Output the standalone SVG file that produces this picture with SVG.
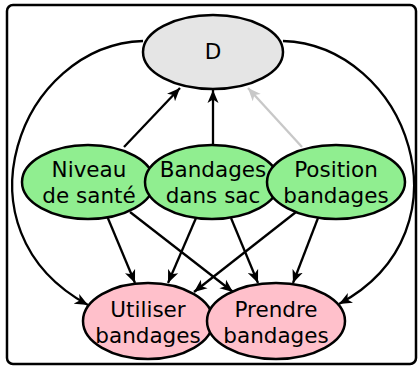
<svg xmlns="http://www.w3.org/2000/svg" width="419" height="367" viewBox="0 0 419 367">
<style>
.frame{fill:#ffffff;stroke:#000000;stroke-width:2.5}
.node ellipse{stroke:#000000;stroke-width:2.5}
.d ellipse{fill:#e5e5e5}
.g ellipse{fill:#90ee90}
.p ellipse{fill:#ffc0cb}
.node text{font-family:"DejaVu Sans",sans-serif;font-size:21.5px;fill:#000000;text-anchor:middle}
.e{fill:none;stroke:#000000;stroke-width:2.3;marker-end:url(#ah)}
.grey{stroke:#c8c8c8;marker-end:url(#ahg)}
</style>
<defs>
<marker id="ah" markerUnits="userSpaceOnUse" markerWidth="14" markerHeight="12" refX="13" refY="5.5" orient="auto" viewBox="0 0 14 11">
<path d="M0,0 L13,5.5 L0,11 L3.5,5.5 z" fill="#000000"/>
</marker>
<marker id="ahg" markerUnits="userSpaceOnUse" markerWidth="14" markerHeight="12" refX="13" refY="5.5" orient="auto" viewBox="0 0 14 11">
<path d="M0,0 L13,5.5 L0,11 L3.5,5.5 z" fill="#c8c8c8"/>
</marker>
</defs>
<rect class="frame" x="7" y="5" width="409" height="359" rx="6"/>
<g id="connectors">
<path class="e" d="M143,41 C20,45 -50,230 88,305"/>
<path class="e" d="M283,41 C406,45 476,230 339,304"/>
<path class="e" d="M124,147 L180,88"/>
<path class="e" d="M213,147 L213,90"/>
<path class="e grey" d="M302,147 L248,88"/>
<path class="e" d="M107,216 L135,283"/>
<path class="e" d="M130,212 L233,292"/>
<path class="e" d="M196,218 L168,283"/>
<path class="e" d="M231,218 L258,283"/>
<path class="e" d="M296,212 L194,292"/>
<path class="e" d="M318,218 L293,283"/>
</g>
<g id="D" class="node d">
<ellipse cx="213" cy="52" rx="70" ry="37"/>
<text x="213" y="59">D</text>
</g>
<g id="niveau" class="node g">
<ellipse cx="88" cy="182" rx="66" ry="37"/>
<text x="89" y="177">Niveau</text>
<text x="89" y="203">de santé</text>
</g>
<g id="bandages_sac" class="node g">
<ellipse cx="212" cy="182" rx="67" ry="37"/>
<text x="213" y="177">Bandages</text>
<text x="213" y="203">dans sac</text>
</g>
<g id="position" class="node g">
<ellipse cx="336" cy="182" rx="69" ry="37"/>
<text x="336" y="177">Position</text>
<text x="336" y="203">bandages</text>
</g>
<g id="utiliser" class="node p">
<ellipse cx="148" cy="321" rx="65" ry="38"/>
<text x="148" y="317">Utiliser</text>
<text x="148" y="343">bandages</text>
</g>
<g id="prendre" class="node p">
<ellipse cx="276" cy="321" rx="69" ry="38"/>
<text x="276" y="317">Prendre</text>
<text x="276" y="343">bandages</text>
</g>
</svg>
